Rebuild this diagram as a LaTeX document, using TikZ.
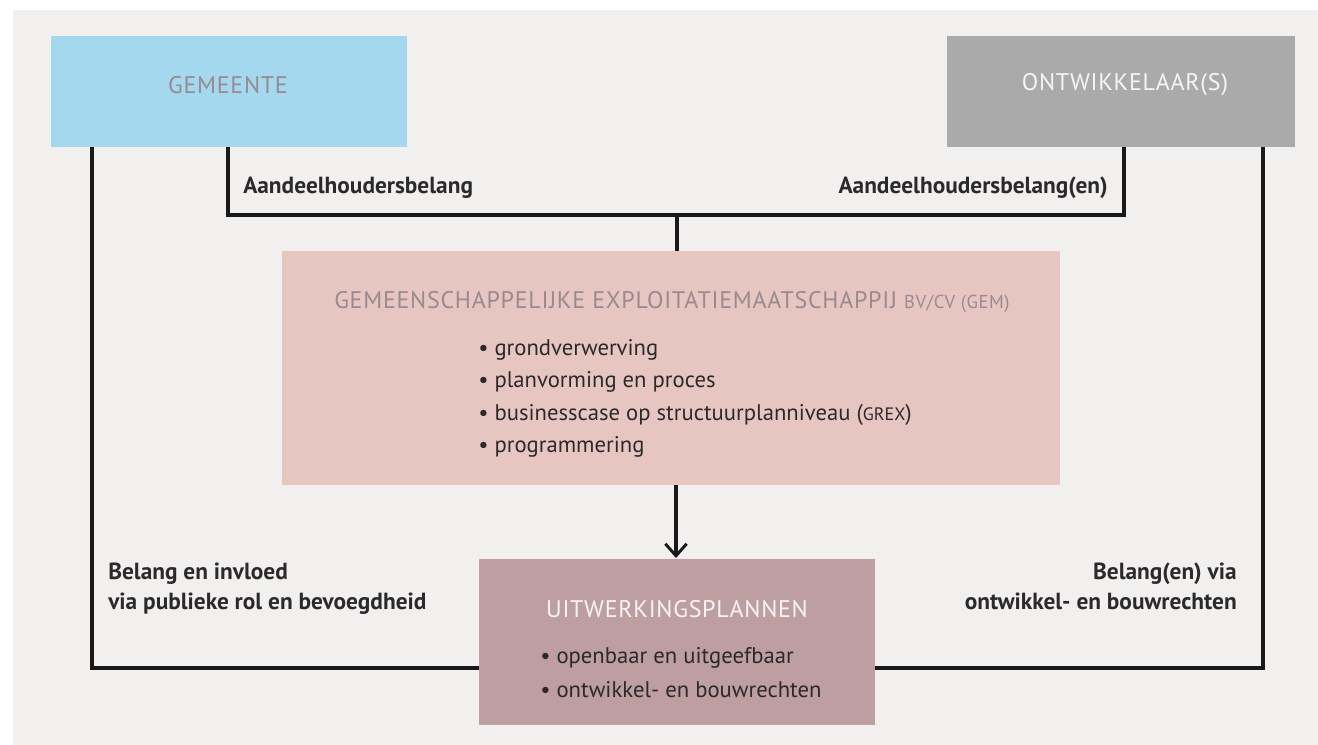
\documentclass[tikz,border=0pt]{standalone}
\usepackage{fontspec}
\setmainfont{PT Sans}
\newfontfamily\ttlfont[LetterSpace=3]{PT Sans}
\usetikzlibrary{arrows.meta}
\definecolor{bgc}{HTML}{F2F0EF}
\definecolor{gemc}{HTML}{A3D8EE}
\definecolor{ontc}{HTML}{ABAAAB}
\definecolor{exc}{HTML}{E7C6C1}
\definecolor{uitc}{HTML}{BF9EA2}
\definecolor{ttlc}{HTML}{9A8A90}
\definecolor{txtc}{HTML}{2A2A2A}
\begin{document}
\begin{tikzpicture}[x=0.75pt,y=-0.75pt,
  boxstyle/.style={draw=none,inner sep=0pt,outer sep=0pt,anchor=north west},
  ttl/.style={font=\ttlfont\fontsize{18}{21}\selectfont},
  lbl/.style={font=\bfseries\fontsize{17.5}{22.5}\selectfont,text=txtc,inner sep=0pt},
  bul/.style={font=\fontsize{17}{24}\selectfont,text=txtc,inner sep=0pt,anchor=west},
  conn/.style={line width=2.5pt,draw=black!90}]
\useasboundingbox (0,0) rectangle (1318,745);
\fill[white] (0,0) rectangle (1318,745);
\fill[bgc] (13,10) rectangle (1318,745);
% boxes
\node[boxstyle,fill=gemc,minimum width=267pt,minimum height=83.25pt] (gem) at (51,36) {};
\node[boxstyle,fill=ontc,minimum width=261pt,minimum height=83.25pt] (ont) at (947,36) {};
\node[boxstyle,fill=exc,minimum width=583.5pt,minimum height=175.5pt] (ex) at (282,251) {};
\node[boxstyle,fill=uitc,minimum width=297pt,minimum height=124.5pt] (uit) at (479,559) {};
% titles
\node[ttl,text=ttlc] (gemt) at (228,85) {GEMEENTE};
\node[ttl,text=white!92!gray] (ontt) at (1125,85) {ONTWIKKELAAR(S)};
\node[ttl,text=ttlc] (ext) at (672,302) {GEMEENSCHAPPELIJKE EXPLOITATIEMAATSCHAPPIJ {\fontsize{14}{16}\selectfont BV/CV (GEM)}};
\node[ttl,text=white!92!gray] (uitt) at (677,609) {UITWERKINGSPLANNEN};
% bullets
\node[bul] (b1) at (478,350) {\textbullet\ grondverwerving};
\node[bul] (b2) at (478,382) {\textbullet\ planvorming en proces};
\node[bul] (b3) at (478,415) {\textbullet\ businesscase op structuurplanniveau ({\fontsize{13.5}{15}\selectfont GREX})};
\node[bul] (b4) at (478,447) {\textbullet\ programmering};
\node[bul] (u1) at (540,658) {\textbullet\ openbaar en uitgeefbaar};
\node[bul] (u2) at (540,690) {\textbullet\ ontwikkel- en bouwrechten};
% coordinates
\coordinate (gl) at (92,147);
\coordinate (gi) at (228,147);
\coordinate (oi) at (1124,147);
\coordinate (or) at (1263,147);
\coordinate (mid) at (677,215);
\coordinate (ul) at (479,668);
\coordinate (ur) at (875,668);
% connectors
\draw[conn] (gi) |- (mid) -| (oi);
\draw[conn] (mid) -- (ex.north -| mid);
\draw[conn] (gl) |- (ul);
\draw[conn] (or) |- (ur);
\draw[conn,-{Straight Barb[length=9pt,width=16pt,line width=2.2pt]}] (676,485) -- (676,558);
% labels
\node[lbl,anchor=west] (l1) at (243,188) {Aandeelhoudersbelang};
\node[lbl,anchor=east] (l2) at (1108,188) {Aandeelhoudersbelang(en)};
\node[lbl,anchor=north west,align=left] (l3) at (108,563) {Belang en invloed\\via publieke rol en bevoegdheid};
\node[lbl,anchor=north east,align=right] (l4) at (1237,563) {Belang(en) via\\ontwikkel- en bouwrechten};
\end{tikzpicture}
\end{document}
